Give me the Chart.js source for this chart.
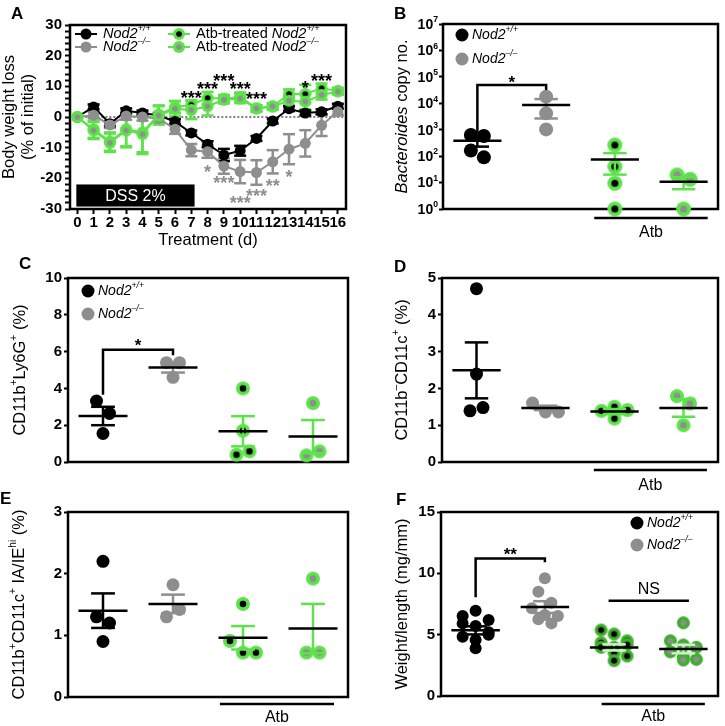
<!DOCTYPE html>
<html>
<head>
<meta charset="utf-8">
<script src="https://cdn.jsdelivr.net/npm/chart.js@4.4.1/dist/chart.umd.min.js"></script>
<style>
  body { margin: 0; background: #fff; }
  #wrap { position: relative; width: 725px; height: 726px; overflow: hidden; }
  #wrap canvas { position: absolute; left: 0; top: 0; }
  .tag { position: absolute; font: bold 17px 'Liberation Sans', Arial, sans-serif; line-height: 1; }
</style>
</head>
<body>
<div id="wrap">
  <canvas id="pA" width="725" height="726"></canvas>
  <canvas id="pB" width="725" height="726"></canvas>
  <canvas id="pC" width="725" height="726"></canvas>
  <canvas id="pD" width="725" height="726"></canvas>
  <canvas id="pE" width="725" height="726"></canvas>
  <canvas id="pF" width="725" height="726"></canvas>
  <div class="tag" style="left:11px;top:5px">A</div>
  <div class="tag" style="left:394px;top:5px">B</div>
  <div class="tag" style="left:19px;top:255px">C</div>
  <div class="tag" style="left:394px;top:258px">D</div>
  <div class="tag" style="left:0px;top:490px">E</div>
  <div class="tag" style="left:396px;top:491px">F</div>
</div>
<script>
const FONT = "'Liberation Sans', Arial, Helvetica, sans-serif";
const GREEN = '#5ee24b';
const GREEN_DARK = '#3fae2c';
const GRAY = '#8e8e8e';

// ---- A: body weight during DSS
const days = [0, 1, 2, 3, 4, 5, 6, 7, 8, 9, 10, 11, 12, 13, 14, 15, 16];
const wtMean = [0, 3.3, -2.2, 2, 1.3, 0.5, -1.5, -5.2, -8.9, -12.4, -11, -7, -1.3, 2.7, 1.3, 1.7, 3.5];
const wtSem = [0, 0.8, 0.8, 0.8, 0.8, 0.8, 0.8, 0.8, 1, 2, 1.6, 0.8, 0.8, 0.8, 0.8, 0.8, 0.8];
const koMean = [0, 0.6, -2.6, 0.3, 0, -0.5, -4, -10.8, -11.3, -16, -17.8, -18.1, -14.6, -10.5, -8.6, -2.7, 1.7];
const koSem = [0, 1, 1, 1.2, 1.2, 1, 1.5, 2, 2, 2.5, 3.8, 4, 3.8, 4.9, 4.3, 3.5, 1];
const atbWtMean = [0, -4, -8, -4, -5, 0.8, 3.2, 4, 6.2, 6, 6.5, 2.8, 3.4, 7.5, 7.5, 9.4, 8.5];
const atbWtSem = [0, 2.8, 3, 5.5, 6.5, 3, 2, 1.5, 2, 1.2, 1.5, 1, 1, 1.5, 3, 1.5, 1];
const atbKoMean = [0, -4.4, -8.4, -4.4, -5.6, 0.5, 2.7, 2.3, 3.5, 5.6, 6, 2.8, 3.5, 5.3, 5, 7.2, 8.3];
const atbKoSem = [0, 2.8, 3, 5.5, 6.5, 3, 2.5, 3, 3, 1.2, 1.5, 1, 1, 1.5, 2.5, 1.5, 1];
const yTicksA = [-30, -28, -26, -24, -22, -20, -18, -16, -14, -12, -10, -8, -6, -4, -2, 0, 2, 4, 6, 8, 10, 12, 14, 16, 18, 20, 22, 24, 26, 28, 30];
const sigDaysWt = [7, 8, 9, 10, 11, 14, 15];
const sigMarksWt = ['***', '***', '***', '***', '***', '*', '***'];
const sigYWt = [7.5, 10.4, 13.1, 10.4, 7.2, 11, 13.1];
const sigDaysKo = [8, 9, 10, 11, 12, 13];
const sigMarksKo = ['*', '***', '***', '***', '**', '*'];
const sigYKo = [-16.4, -20, -26.8, -24.3, -21.1, -18.2];
const dssDays = [0, 7.2];

// ---- B-F: group order Nod2+/+, Nod2-/-, Atb Nod2+/+, Atb Nod2-/-
const groupKinds = ['wt', 'ko', 'atbWt', 'atbKo'];

const bVals = [[631, 578, 162, 90], [17800, 4170, 1030], [263, 40, 9.4, 1], [19.4, 13.3, 1]];
const bMean = [385, 8560, 75, 10.8];
const bSem = [156, 5900, 55, 5.2];
const bTicks = [1, 10, 100, 1000, 10000, 100000, 1000000, 10000000];

const cVals = [[3.31, 2.64, 1.55], [5.4, 5.4, 4.6], [4.0, 1.7, 0.4, 0.58], [3.2, 0.36, 0.58]];
const cMean = [2.5, 5.13, 1.67, 1.38];
const cSem = [0.5, 0.27, 0.82, 0.9];
const cTicks = [0, 2, 4, 6, 8, 10];

const dVals = [[4.71, 2.39, 1.39, 1.48], [1.6, 1.36, 1.36], [1.39, 1.18, 1.5, 1.41], [1.79, 1.59, 1.0]];
const dMean = [2.49, 1.47, 1.37, 1.47];
const dSem = [0.76, 0.06, 0.07, 0.24];
const dTicks = [0, 1, 2, 3, 4, 5];

const eVals = [[2.2, 1.3, 1.2, 0.9], [1.82, 1.3, 1.42], [1.51, 0.91, 0.72, 0.72], [1.92, 0.72, 0.72]];
const eMean = [1.4, 1.51, 0.96, 1.11];
const eSem = [0.28, 0.15, 0.19, 0.4];
const eTicks = [0, 1, 2, 3];

const fVals = [
  [6.52, 6.95, 6.19, 5.92, 5.7, 5.2, 4.83, 4.56, 3.89, 5.0],
  [9.6, 8.5, 7.6, 7.15, 6.6, 6.52, 6.25, 5.92],
  [5.38, 5.05, 4.5, 4.35, 3.97, 3.97, 3.53, 3.26, 2.88, 4.2],
  [5.97, 4.5, 4.16, 3.97, 3.6, 3.2, 2.93, 2.99]
];
const fMean = [5.35, 7.25, 3.96, 3.83];
const fSem = [0.33, 0.48, 0.25, 0.35];
const fTicks = [0, 5, 10, 15];

Chart.defaults.font.family = FONT;
Chart.defaults.color = '#000';
Chart.defaults.animation = false;

// ---- helpers
function line(ctx, x0, y0, x1, y1) {
  ctx.beginPath(); ctx.moveTo(x0, y0); ctx.lineTo(x1, y1); ctx.stroke();
}
function dot(ctx, x, y, r, fill) {
  ctx.fillStyle = fill; ctx.beginPath(); ctx.arc(x, y, r, 0, Math.PI * 2); ctx.fill();
}
function ringMarker(ring, center, R) {
  const s = Math.ceil(R * 2) + 2;
  const c = document.createElement('canvas');
  c.width = c.height = s;
  const g = c.getContext('2d');
  dot(g, s / 2, s / 2, R, ring);
  dot(g, s / 2, s / 2, R * 0.47, center);
  return c;
}
function drawMarker(ctx, m, x, y, r, fill) {
  if (m instanceof HTMLCanvasElement) ctx.drawImage(m, x - m.width / 2, y - m.height / 2);
  else dot(ctx, x, y, r, fill);
}
// text with italic / superscript parts
function drawRich(ctx, parts, x, y, size, opt = {}) {
  const segs = parts.map(p => {
    const s = p.sup ? size * 0.62 : size;
    const f = `${p.it ? 'italic ' : ''}${opt.weight || 'normal'} ${s}px ${FONT}`;
    ctx.font = f;
    return { t: p.t, f, w: ctx.measureText(p.t).width, dy: p.sup ? -size * 0.36 : 0 };
  });
  const total = segs.reduce((a, s) => a + s.w, 0);
  ctx.save();
  ctx.translate(x, y);
  if (opt.rotate) ctx.rotate(-Math.PI / 2);
  let cx = opt.align === 'left' ? 0 : opt.align === 'right' ? -total : -total / 2;
  ctx.fillStyle = opt.color || '#000';
  ctx.textBaseline = 'middle';
  ctx.textAlign = 'left';
  segs.forEach(s => { ctx.font = s.f; ctx.fillText(s.t, cx, s.dy); cx += s.w; });
  ctx.restore();
}
function stars(ctx, text, x, y, color, size = 18) {
  ctx.font = `bold ${size}px ${FONT}`;
  ctx.fillStyle = color;
  ctx.textAlign = 'center';
  ctx.textBaseline = 'alphabetic';
  ctx.fillText(text, x, y + size * 0.57);
}
const nodWt = [{ t: 'Nod2', it: true }, { t: '+/+', it: true, sup: true }];
const nodKo = [{ t: 'Nod2', it: true }, { t: '\u2013/\u2013', it: true, sup: true }];

// ---- Panel A
const mAtbWtA = ringMarker(GREEN, '#000', 6);
const mAtbKoA = ringMarker(GREEN, GRAY, 6);

function lineSet(mean, sem, color, marker) {
  return {
    data: days.map((d, i) => ({ x: d, y: mean[i] })),
    sem,
    borderColor: color,
    borderWidth: 2,
    pointStyle: marker || 'circle',
    pointRadius: 5.5,
    pointBackgroundColor: color,
    pointBorderWidth: 0,
    tension: 0,
    fill: false,
    clip: false
  };
}

const panelAPlugin = {
  id: 'panelA',
  beforeDatasetsDraw(chart) {
    const { ctx, chartArea: a, scales: { x, y } } = chart;
    ctx.save();
    ctx.lineWidth = 2.5; ctx.strokeStyle = '#000';
    ctx.strokeRect(a.left, a.top, a.right - a.left, a.bottom - a.top);
    ctx.lineWidth = 1; ctx.setLineDash([2, 2]);
    line(ctx, x.getPixelForValue(0), y.getPixelForValue(0), a.right, y.getPixelForValue(0));
    ctx.setLineDash([]);
    // DSS period
    const bx0 = x.getPixelForValue(dssDays[0]) - 1, bx1 = x.getPixelForValue(dssDays[1]);
    const by0 = y.getPixelForValue(-22), by1 = y.getPixelForValue(-29.2);
    ctx.fillStyle = '#000';
    ctx.fillRect(bx0, by0, bx1 - bx0, by1 - by0);
    ctx.fillStyle = '#fff'; ctx.font = `16px ${FONT}`;
    ctx.textAlign = 'center'; ctx.textBaseline = 'middle';
    ctx.fillText('DSS 2%', (bx0 + bx1) / 2, (by0 + by1) / 2 + 1);
    // SEM bars
    chart.data.datasets.forEach((ds, i) => {
      const meta = chart.getDatasetMeta(i);
      ctx.strokeStyle = ds.borderColor; ctx.lineWidth = 2.5;
      ds.sem.forEach((s, j) => {
        if (!s) return;
        const px = meta.data[j].x, m = ds.data[j].y;
        const yt = y.getPixelForValue(m + s), yb = y.getPixelForValue(m - s);
        line(ctx, px, yt, px, yb);
        line(ctx, px - 6, yt, px + 6, yt);
        line(ctx, px - 6, yb, px + 6, yb);
      });
    });
    ctx.restore();
  },
  afterDatasetsDraw(chart) {
    const { ctx, scales: { x, y } } = chart;
    ctx.save();
    sigDaysWt.forEach((d, i) => stars(ctx, sigMarksWt[i], x.getPixelForValue(d), y.getPixelForValue(sigYWt[i]), '#000'));
    sigDaysKo.forEach((d, i) => stars(ctx, sigMarksKo[i], x.getPixelForValue(d), y.getPixelForValue(sigYKo[i]), GRAY));
    // legend
    const rows = [
      [75, 97, 34, '#000', null, nodWt],
      [75, 97, 47, GRAY, null, nodKo],
      [168, 190, 34, GREEN, mAtbWtA, [{ t: 'Atb-treated ' }].concat(nodWt)],
      [168, 190, 47, GREEN, mAtbKoA, [{ t: 'Atb-treated ' }].concat(nodKo)]
    ];
    rows.forEach(([x0, x1, yy, col, mk, parts]) => {
      ctx.strokeStyle = col; ctx.lineWidth = 2;
      line(ctx, x0, yy, x1, yy);
      drawMarker(ctx, mk, (x0 + x1) / 2, yy, 5.5, col);
      drawRich(ctx, parts, x1 + 6, yy, 14.5, { align: 'left' });
    });
    drawRich(ctx, [{ t: 'Body weight loss' }], 9, 117, 16.5, { rotate: true });
    drawRich(ctx, [{ t: '(% of initial)' }], 28, 117, 16.5, { rotate: true });
    ctx.restore();
  }
};

new Chart(document.getElementById('pA'), {
  type: 'line',
  data: {
    datasets: [
      lineSet(atbKoMean, atbKoSem, GREEN, mAtbKoA),
      lineSet(atbWtMean, atbWtSem, GREEN, mAtbWtA),
      lineSet(koMean, koSem, GRAY),
      lineSet(wtMean, wtSem, '#000')
    ]
  },
  options: {
    responsive: false,
    devicePixelRatio: 1,
    events: [],
    layout: { padding: { left: 36, top: 25, right: 725 - 346, bottom: 726 - 250 } },
    plugins: { legend: { display: false }, tooltip: { enabled: false } },
    scales: {
      x: {
        type: 'linear', min: -0.45, max: 16.5,
        afterBuildTicks: s => { s.ticks = days.map(v => ({ value: v })); },
        afterFit: s => { s.height = 41; },
        ticks: { font: { size: 15, weight: 'bold' }, color: '#000', padding: 0, autoSkip: false, maxRotation: 0 },
        grid: { drawOnChartArea: false, tickLength: 5, tickWidth: 2, tickColor: '#000' },
        border: { display: false },
        title: { display: true, text: 'Treatment (d)', font: { size: 16.5 }, color: '#000', padding: 0 }
      },
      y: {
        type: 'linear', min: -30, max: 30,
        afterBuildTicks: s => { s.ticks = yTicksA.map(v => ({ value: v })); },
        afterFit: s => { s.width = 34; },
        ticks: { font: { size: 15, weight: 'bold' }, color: '#000', padding: 3, autoSkip: false,
                 callback: v => (v % 10 === 0 ? String(v) : '') },
        grid: { drawOnChartArea: false, tickLength: 5, tickWidth: 2, tickColor: '#000' },
        border: { display: false }
      }
    }
  },
  plugins: [panelAPlugin]
});

// ---- Dot plot panels
// points that sit at nearly the same height are spread side by side
function swarm(vals, toPx, catPx) {
  const order = vals.map((v, i) => i).sort((a, b) => vals[b] - vals[a]);
  const off = vals.map(() => 0);
  let row = [];
  const flush = () => {
    row.sort((a, b) => a - b);
    row.forEach((i, k) => { off[i] = (k - (row.length - 1) / 2) * 13 / catPx; });
    row = [];
  };
  order.forEach(i => {
    if (row.length && (row.length >= 3 || toPx(vals[row[0]]) - toPx(vals[i]) > 12.5)) flush();
    row.push(i);
  });
  flush();
  return off;
}

function dotPanel(p) {
  const [l, t, r, b] = p.area;
  const isLog = p.log;
  const catPx = (r - l) / 4;
  const toPx = v => isLog
    ? Math.log10(v) * (b - t) / Math.log10(p.yMax / p.yMin)
    : (v - p.yMin) * (b - t) / (p.yMax - p.yMin);
  const ring = p.dark ? GREEN_DARK : GREEN;
  const style = {
    wt: { marker: 'circle', fill: '#000', sem: '#000' },
    ko: { marker: 'circle', fill: GRAY, sem: GRAY },
    atbWt: { marker: ringMarker(ring, '#000', p.r + 0.5), fill: ring, sem: p.dark ? '#c9f0c0' : GREEN },
    atbKo: { marker: ringMarker(ring, GRAY, p.r + 0.5), fill: ring, sem: p.dark ? '#c9f0c0' : GREEN }
  };
  const datasets = p.vals.map((vals, gi) => {
    const off = swarm(vals, toPx, catPx);
    const st = style[groupKinds[gi]];
    return {
      data: vals.map((v, i) => ({ x: gi + off[i], y: v })),
      pointStyle: st.marker,
      pointRadius: p.r,
      pointBackgroundColor: st.fill,
      pointBorderWidth: 0,
      showLine: false,
      clip: false
    };
  });

  const plugin = {
    id: 'dots' + p.id,
    beforeDatasetsDraw(chart) {
      const { ctx, chartArea: a } = chart;
      ctx.save();
      ctx.lineWidth = 2.5; ctx.strokeStyle = '#000';
      ctx.strokeRect(a.left, a.top, a.right - a.left, a.bottom - a.top);
      ctx.restore();
    },
    afterDatasetsDraw(chart) {
      const { ctx, chartArea: a, scales: { x: xs, y: ys } } = chart;
      ctx.save();
      ctx.lineCap = 'butt';
      // mean and SEM
      p.mean.forEach((m, gi) => {
        const cx = xs.getPixelForValue(gi);
        const s = p.sem[gi];
        const yt = ys.getPixelForValue(m + s);
        const yb = ys.getPixelForValue(Math.max(m - s, p.yMin));
        ctx.lineWidth = 2.5;
        ctx.strokeStyle = style[groupKinds[gi]].sem;
        line(ctx, cx, yt, cx, yb);
        line(ctx, cx - 0.17 * catPx, yt, cx + 0.17 * catPx, yt);
        line(ctx, cx - 0.17 * catPx, yb, cx + 0.17 * catPx, yb);
        ctx.strokeStyle = '#000';
        const my = ys.getPixelForValue(m);
        line(ctx, cx - 0.35 * catPx, my, cx + 0.35 * catPx, my);
      });
      // significance bracket
      if (p.bracket) {
        const q = p.bracket;
        const x0 = xs.getPixelForValue(0), x1 = xs.getPixelForValue(1);
        const yt = ys.getPixelForValue(q.top);
        ctx.strokeStyle = '#000'; ctx.lineWidth = 2.5;
        ctx.beginPath();
        ctx.moveTo(x0, ys.getPixelForValue(q.left));
        ctx.lineTo(x0, yt); ctx.lineTo(x1, yt);
        ctx.lineTo(x1, ys.getPixelForValue(q.right));
        ctx.stroke();
        stars(ctx, q.mark, (x0 + x1) / 2, ys.getPixelForValue(q.markY), '#000', 17);
      }
      if (p.ns) {
        const x0 = xs.getPixelForValue(p.ns.from), x1 = xs.getPixelForValue(p.ns.to);
        const yy = ys.getPixelForValue(p.ns.y);
        ctx.strokeStyle = '#000'; ctx.lineWidth = 2.5;
        line(ctx, x0, yy, x1, yy);
        ctx.font = `16px ${FONT}`; ctx.fillStyle = '#000';
        ctx.textAlign = 'center'; ctx.textBaseline = 'middle';
        ctx.fillText('NS', (x0 + x1) / 2, ys.getPixelForValue(p.ns.labelY));
      }
      // Atb underline
      if (p.atb) {
        const x0 = xs.getPixelForValue(p.atb[0]), x1 = xs.getPixelForValue(p.atb[1]);
        const yy = a.bottom + p.atb[2];
        ctx.strokeStyle = '#000'; ctx.lineWidth = 2.5;
        line(ctx, x0, yy, x1, yy);
        ctx.font = `16px ${FONT}`; ctx.fillStyle = '#000';
        ctx.textAlign = 'center'; ctx.textBaseline = 'middle';
        ctx.fillText('Atb', (x0 + x1) / 2, yy + p.atb[3]);
      }
      // legend
      if (p.legend) {
        const [lx, ly, gap] = p.legend;
        dot(ctx, lx, ly, 6.5, '#000');
        dot(ctx, lx, ly + gap, 6.5, GRAY);
        drawRich(ctx, nodWt, lx + 10, ly, 14, { align: 'left' });
        drawRich(ctx, nodKo, lx + 10, ly + gap, 14, { align: 'left' });
      }
      // log tick labels 10^n
      if (isLog) {
        p.ticks.forEach(v => {
          const yy = ys.getPixelForValue(v);
          drawRich(ctx, [{ t: '10' }, { t: String(Math.round(Math.log10(v))), sup: true }],
            a.left - 5, yy + 1, 14, { align: 'right', weight: 'bold' });
        });
      }
      drawRich(ctx, p.title, p.titleX, (a.top + a.bottom) / 2, 16.5, { rotate: true });
      ctx.restore();
    }
  };

  new Chart(document.getElementById(p.id), {
    type: 'scatter',
    data: { datasets },
    options: {
      responsive: false,
      devicePixelRatio: 1,
      events: [],
      layout: { padding: { left: l - 40, top: t, right: 725 - r, bottom: 726 - b } },
      plugins: { legend: { display: false }, tooltip: { enabled: false } },
      scales: {
        x: { type: 'linear', min: -0.5, max: 3.5, display: false },
        y: {
          type: isLog ? 'logarithmic' : 'linear', min: p.yMin, max: p.yMax,
          afterBuildTicks: s => { s.ticks = p.ticks.map(v => ({ value: v })); },
          afterFit: s => { s.width = 40; },
          ticks: { font: { size: 15, weight: 'bold' }, color: '#000', padding: 2, autoSkip: false,
                   callback: v => (isLog ? '' : String(v)) },
          grid: { drawOnChartArea: false, tickLength: 4, tickWidth: 2, tickColor: '#000' },
          border: { display: false }
        }
      }
    },
    plugins: [plugin]
  });
}

dotPanel({
  id: 'pB', area: [443, 24, 718, 209], log: true, yMin: 1, yMax: 1e7, ticks: bTicks, r: 7,
  vals: bVals, mean: bMean, sem: bSem,
  bracket: { left: 724, top: 49000, right: 31600, mark: '*', markY: 87000 },
  atb: [1.7, 3.35, 9, 15], legend: [462, 35, 24],
  title: [{ t: 'Bacteroides', it: true }, { t: ' copy no.' }], titleX: 402
});
dotPanel({
  id: 'pC', area: [68, 278, 348, 462], yMin: 0, yMax: 10, ticks: cTicks, r: 6.5,
  vals: cVals, mean: cMean, sem: cSem,
  bracket: { left: 3.65, top: 6.1, right: 5.8, mark: '*', markY: 6.55 },
  legend: [88, 291, 23],
  title: [{ t: 'CD11b' }, { t: '+', sup: true }, { t: 'Ly6G' }, { t: '+', sup: true }, { t: ' (%)' }], titleX: 20
});
dotPanel({
  id: 'pD', area: [442, 278, 718, 462], yMin: 0, yMax: 5, ticks: dTicks, r: 6.5,
  vals: dVals, mean: dMean, sem: dSem,
  atb: [1.7, 3.34, 8, 16],
  title: [{ t: 'CD11b' }, { t: '\u2013', sup: true }, { t: 'CD11c' }, { t: '+', sup: true }, { t: ' (%)' }], titleX: 402
});
dotPanel({
  id: 'pE', area: [68, 512, 348, 697], yMin: 0, yMax: 3, ticks: eTicks, r: 6.5,
  vals: eVals, mean: eMean, sem: eSem,
  atb: [1.67, 3.3, 7, 14],
  title: [{ t: 'CD11b' }, { t: '+', sup: true }, { t: 'CD11c' }, { t: '+', sup: true }, { t: ' IA/IE' }, { t: 'hi', sup: true }, { t: ' (%)' }], titleX: 19
});
dotPanel({
  id: 'pF', area: [441, 512, 718, 696], yMin: 0, yMax: 15, ticks: fTicks, r: 6, dark: true,
  vals: fVals, mean: fMean, sem: fSem,
  bracket: { left: 8.05, top: 11.2, right: 10.9, mark: '**', markY: 11.85 },
  ns: { from: 1.92, to: 3.08, y: 7.77, labelY: 8.64 },
  atb: [1.82, 3.31, 8, 13], legend: [637, 523, 22],
  title: [{ t: 'Weight/length (mg/mm)' }], titleX: 402
});
</script>
</body>
</html>
